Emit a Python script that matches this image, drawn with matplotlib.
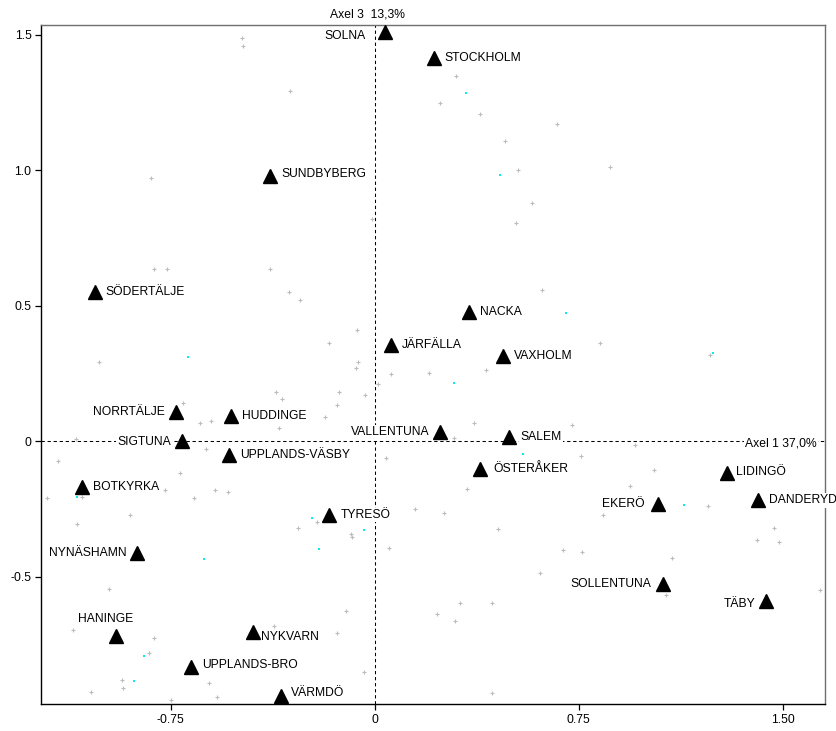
import matplotlib
matplotlib.use("Agg")
import matplotlib.pyplot as plt

plt.rcParams['font.family'] = ['Liberation Sans', 'DejaVu Sans']

# kommuner (triangles)
names = ["SOLNA", "STOCKHOLM", "SUNDBYBERG", "SÖDERTÄLJE", "NACKA", "JÄRFÄLLA",
         "VAXHOLM", "NORRTÄLJE", "HUDDINGE", "SIGTUNA", "UPPLANDS-VÄSBY", "BOTKYRKA",
         "TYRESÖ", "NYNÄSHAMN", "HANINGE", "NYKVARN", "UPPLANDS-BRO", "VÄRMDÖ",
         "VALLENTUNA", "SALEM", "ÖSTERÅKER", "LIDINGÖ", "EKERÖ", "DANDERYD",
         "SOLLENTUNA", "TÄBY"]
kx = [0.038, 0.217, -0.385, -1.029, 0.346, 0.060,
      0.471, -0.729, -0.528, -0.708, -0.537, -1.077,
      -0.167, -0.873, -0.951, -0.446, -0.676, -0.346,
      0.241, 0.495, 0.387, 1.296, 1.040, 1.409,
      1.062, 1.440]
ky = [1.510, 1.414, 0.980, 0.550, 0.478, 0.356,
      0.315, 0.107, 0.094, 0.002, -0.051, -0.167,
      -0.272, -0.413, -0.718, -0.705, -0.834, -0.939,
      0.035, 0.015, -0.102, -0.116, -0.230, -0.218,
      -0.528, -0.589]

# small grey points
gx = [-0.488, -0.485, -0.310, -0.824, -0.010, -0.811, -0.765, -0.385, -0.314, -0.275,
      -0.066, -0.167, 0.300, 0.239, 0.387, 0.670, 0.479, 0.866, 0.527, 0.579,
      0.518, 0.614, 0.827, 1.232, -1.013, -0.061, -0.070, 0.060, 0.013, -0.363,
      -0.131, -0.341, -0.036, -0.706, -0.140, -0.183, -0.642, -0.603, -0.351, -1.098,
      -0.619, 0.043, -1.164, -0.716, -0.772, -0.586, -0.540, -1.204, -1.076, -0.663,
      0.147, -0.899, -0.213, -0.283, -1.093, -0.086, -0.082, 0.051, -0.977, -0.106,
      -0.371, -1.108, -0.140, -0.811, -0.829, -0.040, -0.929, -0.924, -0.608, -1.042,
      -0.580, -0.748, 0.200, 0.408, 0.365, 0.726, 0.290, 0.957, 0.757, 1.027,
      0.940, 0.338, 1.224, 0.839, 0.256, 0.452, 1.467, 1.406, 1.485, 0.692,
      0.762, 1.092, 0.609, 1.070, 1.636, 0.313, 0.431, 0.230, 0.295, 0.430]
gy = [1.489, 1.459, 1.293, 0.973, 0.819, 0.635, 0.635, 0.635, 0.551, 0.521,
      0.411, 0.364, 1.348, 1.247, 1.208, 1.170, 1.108, 1.012, 1.002, 0.880,
      0.806, 0.559, 0.363, 0.320, 0.294, 0.294, 0.270, 0.248, 0.210, 0.183,
      0.183, 0.157, 0.171, 0.140, 0.135, 0.091, 0.066, 0.074, 0.048, 0.008,
      -0.027, -0.062, -0.073, -0.118, -0.180, -0.180, -0.185, -0.209, -0.204, -0.209,
      -0.249, -0.271, -0.298, -0.320, -0.303, -0.342, -0.352, -0.395, -0.544, -0.626,
      -0.680, -0.696, -0.706, -0.727, -0.781, -0.851, -0.881, -0.911, -0.893, -0.925,
      -0.942, -0.955, 0.253, 0.263, 0.066, 0.060, 0.012, -0.014, -0.053, -0.106,
      -0.164, -0.175, -0.238, -0.272, -0.263, -0.325, -0.321, -0.364, -0.373, -0.400,
      -0.408, -0.430, -0.487, -0.567, -0.549, -0.597, -0.597, -0.636, -0.662, -0.930]

# small cyan points
cx = [0.337, 0.460, 0.703, 1.244, 0.293, 0.545, 1.138, -0.686, -1.096, -0.229,
      -0.038, -0.204, -0.626, -0.849, -0.885]
cy = [1.285, 0.983, 0.475, 0.327, 0.216, -0.047, -0.235, 0.312, -0.204, -0.283,
      -0.327, -0.397, -0.433, -0.791, -0.885]

# label placement (pixel offsets, alignment)
label_pos = {
    "SOLNA": (-19, -4, "right"), "NORRTÄLJE": (-12, 0, "right"), "SIGTUNA": (-11, -1, "right"),
    "NYNÄSHAMN": (-11, 0, "right"), "VALLENTUNA": (-11, 0, "right"), "EKERÖ": (-13, 0, "right"),
    "SOLLENTUNA": (-12, 0, "right"), "TÄBY": (-11, -3, "right"), "HANINGE": (-10, 17, "center"),
    "NYKVARN": (8, -5, "left"), "SUNDBYBERG": (11, 2, "left"), "UPPLANDS-BRO": (11, 2, "left"),
    "VÄRMDÖ": (10, 3, "left"), "ÖSTERÅKER": (13, 0, "left"), "LIDINGÖ": (9, 1, "left"),
}

fig = plt.figure(figsize=(8.37, 7.31), dpi=100)
ax = fig.add_axes([0.0493, 0.0369, 0.9364, 0.9285])

ax.set_xlim(-1.226, 1.656)
ax.set_ylim(-0.969, 1.535)

ax.axhline(0, color='black', lw=0.75, ls=(0, (3.2, 2.6)), zorder=1)
ax.axvline(0, color='black', lw=0.75, ls=(0, (3.2, 2.6)), zorder=1)

ax.plot(gx, gy, ls='none', marker='+', ms=3.2, mew=0.8, color='#bdbdbd', zorder=2)
ax.plot(cx, cy, ls='none', marker='s', ms=1.6, mew=0, color='#00f0f0', zorder=2)

for n, x, y in zip(names, kx, ky):
    dx, dy, ha = label_pos.get(n, (11, 0, "left"))
    ax.annotate(n, (x, y), xytext=(dx, dy), textcoords='offset pixels',
                ha=ha, va='center', fontsize=8.7, color='black', zorder=3,
                bbox=dict(boxstyle='square,pad=0.1', fc='white', ec='none'))

ax.plot(kx, ky, ls='none', marker='^', ms=9.5, color='black', zorder=4)

ax.annotate("Axel 3  13,3%", (0, 1.535), xytext=(-7, 11), textcoords='offset pixels',
            ha='center', va='center', fontsize=8.7, annotation_clip=False)
ax.annotate("Axel 1 37,0%", (1.656, 0), xytext=(-8, -2), textcoords='offset pixels',
            ha='right', va='center', fontsize=8.7, zorder=3,
            bbox=dict(boxstyle='square,pad=0.1', fc='white', ec='none'))

ax.set_xticks([-0.75, 0, 0.75, 1.5])
ax.set_xticklabels(["-0.75", "0", "0.75", "1.50"])
ax.set_yticks([-0.5, 0, 0.5, 1.0, 1.5])
ax.set_yticklabels(["-0.5", "0", "0.5", "1.0", "1.5"])
ax.tick_params(direction='out', length=4, width=0.9, labelsize=8.7, pad=3)

for s in ['left', 'bottom']:
    ax.spines[s].set_color('black')
    ax.spines[s].set_linewidth(1.0)
for s in ['top', 'right']:
    ax.spines[s].set_color('#6e6e6e')
    ax.spines[s].set_linewidth(1.0)

fig.savefig("out.png", dpi=100)
